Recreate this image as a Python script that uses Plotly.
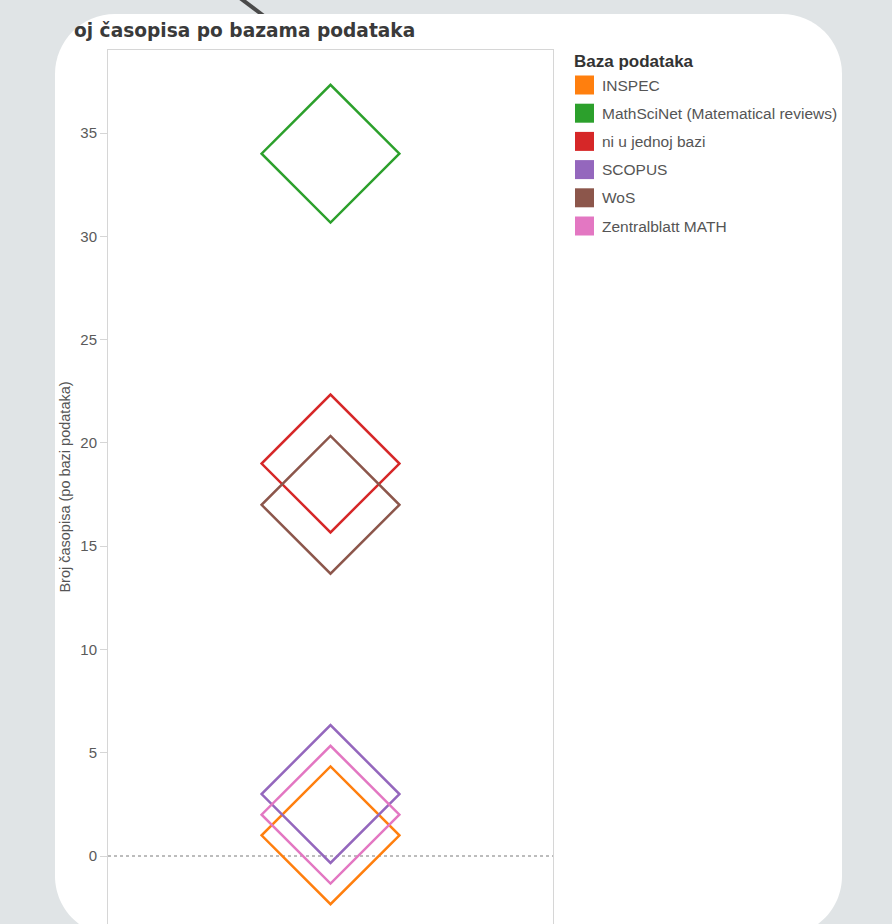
import plotly.graph_objects as go

categories = ["INSPEC", "MathSciNet (Matematical reviews)", "ni u jednoj bazi",
              "SCOPUS", "WoS", "Zentralblatt MATH"]
values = [1, 34, 19, 3, 17, 2]
colors = ["#ff7f0e", "#2ca02c", "#d62728", "#9467bd", "#8c564b", "#e377c2"]
tick_vals = [0, 5, 10, 15, 20, 25, 30, 35]
title_text = "oj časopisa po bazama podataka"
y_title = "Broj časopisa (po bazi podataka)"
legend_title = "Baza podataka"

W, H = 892, 924
L, R, T, B = 108, 339, 50, 0
PW, PH = W - L - R, H - T - B


def px(x):
    return (x - L) / PW


def py(y):
    return (H - B - y) / PH


fig = go.Figure()
for cat, val, col in zip(categories, values, colors):
    fig.add_trace(go.Scatter(
        x=["A"], y=[val], name=cat, mode="markers",
        marker=dict(symbol="diamond-open", size=106, color=col,
                    line=dict(width=2.5, color=col)),
        showlegend=False, hoverinfo="name+y"))

shapes = []
# dark diagonal line at the top (behind panel)
shapes.append(dict(type="line", xref="paper", yref="paper",
                   x0=px(240), y0=py(-2), x1=px(264), y1=py(16),
                   line=dict(color="#4a4a4a", width=4), layer="below"))
# white rounded panel
x0, x1, y0, y1, r = 55, 842, 14, 936, 60
k = 0.5523 * r
path = (
    f"M {px(x0 + r)},{py(y0)} L {px(x1 - r)},{py(y0)} "
    f"C {px(x1 - r + k)},{py(y0)} {px(x1)},{py(y0 + r - k)} {px(x1)},{py(y0 + r)} "
    f"L {px(x1)},{py(y1 - r)} "
    f"C {px(x1)},{py(y1 - r + k)} {px(x1 - r + k)},{py(y1)} {px(x1 - r)},{py(y1)} "
    f"L {px(x0 + r)},{py(y1)} "
    f"C {px(x0 + r - k)},{py(y1)} {px(x0)},{py(y1 - r + k)} {px(x0)},{py(y1 - r)} "
    f"L {px(x0)},{py(y0 + r)} "
    f"C {px(x0)},{py(y0 + r - k)} {px(x0 + r - k)},{py(y0)} {px(x0 + r)},{py(y0)} Z"
)
shapes.append(dict(type="path", xref="paper", yref="paper", path=path,
                   fillcolor="white", line=dict(width=0), layer="below"))
# dotted zero line
shapes.append(dict(type="line", xref="paper", yref="y", x0=0, x1=1, y0=0, y1=0,
                   line=dict(color="#7a7a7a", width=1, dash="dot"), layer="below"))

annotations = []
annotations.append(dict(text=f"<b>{title_text}</b>", xref="paper", yref="paper",
                        x=px(72), y=py(30), xanchor="left", yanchor="middle",
                        showarrow=False,
                        font=dict(family="DejaVu Sans", size=18.6, color="#3a3a3a")))
annotations.append(dict(text=f"<b>{legend_title}</b>", xref="paper", yref="paper",
                        x=px(572), y=py(62), xanchor="left", yanchor="middle",
                        showarrow=False,
                        font=dict(family="Liberation Sans", size=17, color="#333333")))
for i, (cat, col) in enumerate(zip(categories, colors)):
    cy = 85 + 28.2 * i
    shapes.append(dict(type="rect", xref="paper", yref="paper",
                       x0=px(575), x1=px(594), y0=py(cy - 9.5), y1=py(cy + 9.5),
                       fillcolor=col, line=dict(width=0)))
    annotations.append(dict(text=cat, xref="paper", yref="paper",
                            x=px(600), y=py(cy), xanchor="left", yanchor="middle",
                            showarrow=False,
                            font=dict(family="Liberation Sans", size=15.5, color="#555555")))

unit = (856 - 133) / 35.0
y_top = (856 - T) / unit
y_bot = (856 - H) / unit

fig.update_layout(
    width=W, height=H,
    margin=dict(l=L, r=R, t=T, b=B, pad=0),
    paper_bgcolor="#e0e4e6",
    plot_bgcolor="rgba(0,0,0,0)",
    shapes=shapes, annotations=annotations,
    showlegend=False,
    xaxis=dict(showticklabels=False, showgrid=False, zeroline=False, ticks="",
               showline=True, linecolor="#d6d6d6", linewidth=1, mirror=True,
               fixedrange=True),
    yaxis=dict(range=[y_bot, y_top], tickvals=tick_vals, showgrid=False,
               zeroline=False, showline=True, linecolor="#d6d6d6", linewidth=1,
               mirror=True, ticks="outside", ticklen=7, tickcolor="#d6d6d6",
               tickfont=dict(family="Liberation Sans", size=15, color="#5a5a5a"),
               title=dict(text=y_title, standoff=6,
                          font=dict(family="Liberation Sans", size=14.5, color="#555555"))),
)

fig.write_html("out.html", config={"displayModeBar": False},
               post_script="document.body.style.margin='0';document.body.style.overflow='hidden';")
